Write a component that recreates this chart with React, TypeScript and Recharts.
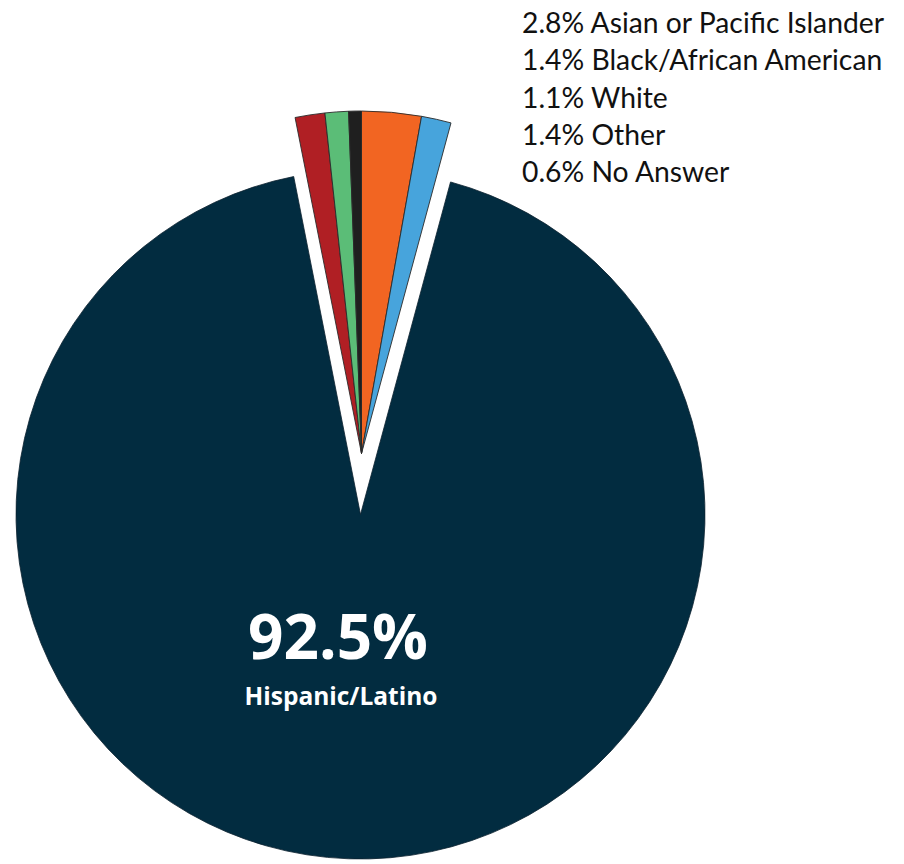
import React from 'react';
import { PieChart, Pie, Cell } from 'recharts';

const categories = [
  'Asian or Pacific Islander',
  'Black/African American',
  'Hispanic/Latino',
  'Other',
  'White',
  'No Answer',
];
const values = [2.8, 1.4, 92.5, 1.4, 1.1, 0.6];
const colors = ['#F26522', '#47A4DC', '#022C40', '#B01F24', '#5BBD77', '#1F1F1F'];
const mainIndex = 2;
const legendOrder = [0, 1, 4, 3, 5];

const data = categories.map((name, i) => ({ name, value: values[i] }));

const W = 904;
const H = 864;
const CX = 360.5;
const CY = 514.5;
const R = 344.5;
const EXPLODE = 61;

const LEGEND_FONT = 'Lato, "Open Sans", sans-serif';
const LABEL_FONT = '"Open Sans", Lato, sans-serif';

export default function App() {
  return (
    <div style={{ position: 'absolute', left: 0, top: 0, width: W, height: H, background: '#fff' }}>
      <PieChart width={W} height={H} margin={{ top: 0, right: 0, bottom: 0, left: 0 }}>
        <Pie
          data={data}
          dataKey="value"
          nameKey="name"
          cx={CX}
          cy={CY}
          outerRadius={R}
          startAngle={90}
          endAngle={-270}
          isAnimationActive={false}
          labelLine={false}
        >
          {data.map((d, i) => (
            <Cell
              key={d.name}
              fill={i === mainIndex ? colors[i] : 'transparent'}
              stroke={i === mainIndex ? '#0d2230' : 'none'}
              strokeWidth={0.8}
            />
          ))}
        </Pie>
        <Pie
          data={data}
          dataKey="value"
          nameKey="name"
          cx={CX + 1}
          cy={CY - EXPLODE}
          outerRadius={R - 2}
          startAngle={90}
          endAngle={-270}
          isAnimationActive={false}
          labelLine={false}
        >
          {data.map((d, i) => (
            <Cell
              key={d.name}
              fill={i === mainIndex ? 'transparent' : colors[i]}
              stroke={i === mainIndex ? 'none' : '#2a2a2a'}
              strokeWidth={0.9}
            />
          ))}
        </Pie>
      </PieChart>
      <svg
        width={W}
        height={H}
        style={{ position: 'absolute', left: 0, top: 0, pointerEvents: 'none' }}
      >
        <text
          x={338}
          y={659}
          textAnchor="middle"
          fill="#ffffff"
          fontFamily={LABEL_FONT}
          fontWeight={700}
          fontSize={62}
        >
          {`${values[mainIndex]}%`}
        </text>
        <text
          x={341}
          y={705}
          textAnchor="middle"
          fill="#ffffff"
          fontFamily={LABEL_FONT}
          fontWeight={700}
          fontSize={24.5}
        >
          {categories[mainIndex]}
        </text>
        {legendOrder.map((idx, k) => (
          <text
            key={categories[idx]}
            x={522}
            y={33 + k * 37.3}
            fill="#111111"
            fontFamily={LEGEND_FONT}
            fontSize={28.3}
          >
            {`${values[idx].toFixed(1)}% ${categories[idx]}`}
          </text>
        ))}
      </svg>
    </div>
  );
}
